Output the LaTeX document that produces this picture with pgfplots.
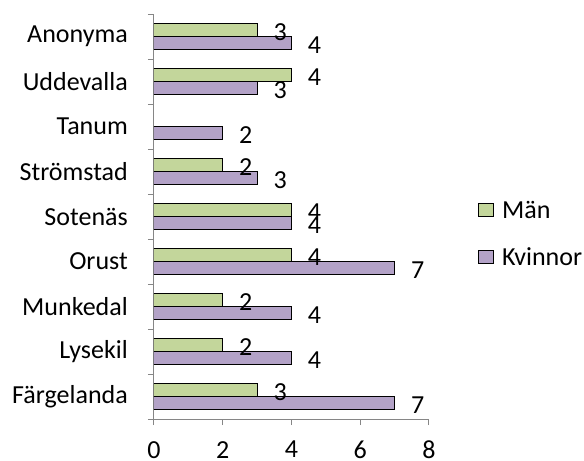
\documentclass[border=0pt]{standalone}
\usepackage{pgfplots}
\pgfplotsset{compat=1.18}
\usepackage{fontspec}
\setmainfont{Carlito}
\definecolor{man}{RGB}{195,214,155}
\definecolor{kv}{RGB}{179,162,199}
\definecolor{axgray}{RGB}{134,134,134}
\pgfplotsset{/pgf/number format/assume math mode=true}
\begin{document}
\begin{tikzpicture}[font=\fontsize{26bp}{31bp}\selectfont]
\path[use as bounding box] (-154bp,-42bp) rectangle (430bp,419bp);
\begin{axis}[
  scale only axis,
  width=275bp, height=405bp,
  xbar,
  xmin=0, xmax=8,
  ymin=-0.5, ymax=8.5,
  axis lines*=left,
  axis line style={axgray, line width=1bp},
  tick align=outside,
  tick style={axgray, line width=1bp},
  major tick length=6bp,
  xtick={0,2,4,6,8},
  ytick={-0.5,0.5,...,8.5},
  yticklabels={},
  extra y ticks={0,1,2,3,4,5,6,7,8},
  extra y tick labels={Färgelanda,Lysekil,Munkedal,Orust,Sotenäs,Strömstad,Tanum,Uddevalla,Anonyma},
  extra y tick style={major tick length=0pt, tick style={draw=none}, yticklabel style={inner sep=0pt, xshift=-26bp}},
  tick label style={inner sep=0pt},
  xticklabel style={yshift=-16bp},
  bar width=0.28,
  nodes near coords,
  nodes near coords style={anchor=west, inner sep=0pt, xshift=16bp, yshift=-2bp, black},
  legend style={draw=none, fill=none, at={(1.178,0.457)}, anchor=west, inner sep=0pt,
    nodes={inner sep=0pt}, row sep=28bp},
  legend cell align=left,
  legend image code/.code={\draw[#1, line width=1bp] (0bp,-6.5bp) rectangle (15bp,6.5bp); \path (23bp,0bp);},
]
\addplot[fill=man, draw=black, line width=1bp, bar shift=0.14] coordinates {
  (3,0) (2,1) (2,2) (4,3) (4,4) (2,5) (4,7) (3,8)};
\addplot[fill=kv, draw=black, line width=1bp, bar shift=-0.14] coordinates {
  (7,0) (4,1) (4,2) (7,3) (4,4) (3,5) (2,6) (3,7) (4,8)};
\legend{Män,Kvinnor}
\end{axis}
\end{tikzpicture}
\end{document}
